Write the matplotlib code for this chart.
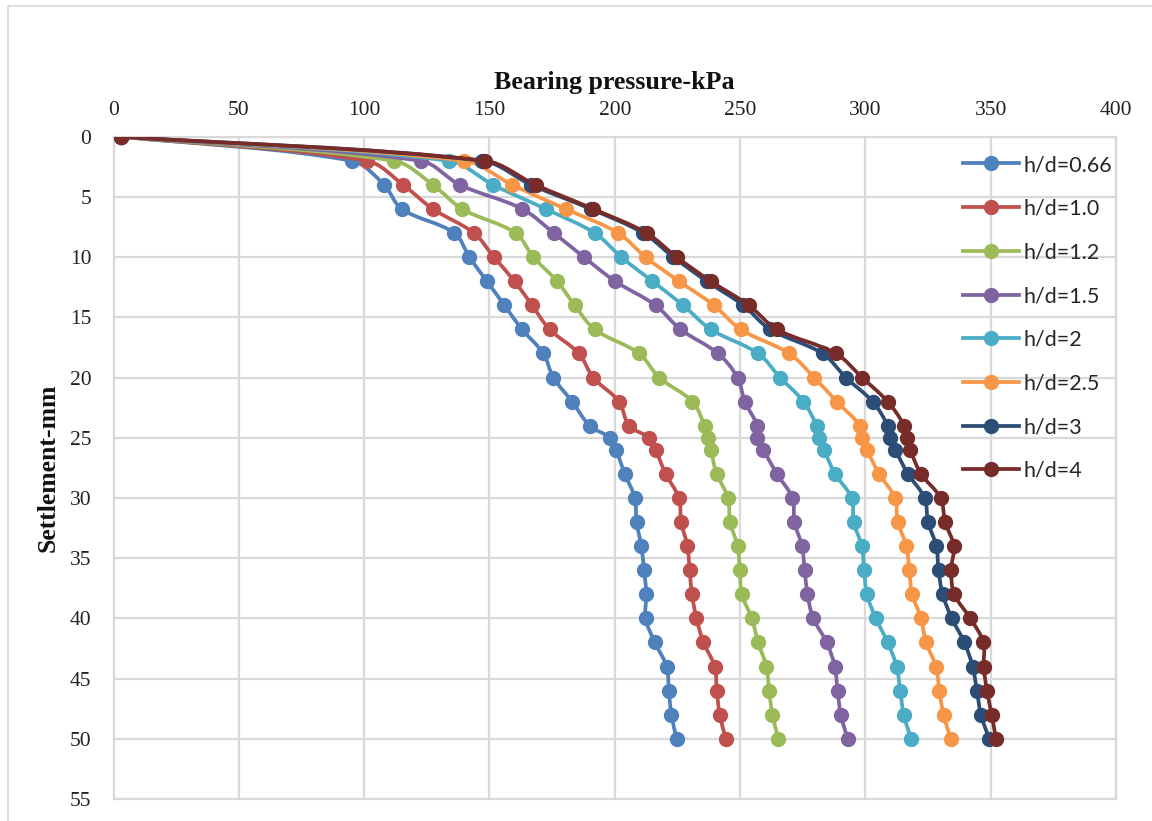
import numpy as np
import matplotlib
matplotlib.use("Agg")
import matplotlib.pyplot as plt
from matplotlib.path import Path
from matplotlib.patches import PathPatch, Rectangle
from matplotlib.lines import Line2D

# ---------------- data ----------------
settlement = [0, 2, 4, 6, 8, 10, 12, 14, 16, 18, 20, 22, 24, 25, 26, 28, 30,
              32, 34, 36, 38, 40, 42, 44, 46, 48, 50]

hd_066 = [3, 95, 108, 115, 136, 142, 149, 156, 163, 171.5, 175.5, 183, 190, 198,
          200.5, 204, 208, 208.7, 210.6, 211.7, 212.6, 212.3, 216, 220.7, 221.6,
          222.6, 224.7]
hd_10 = [3, 101, 115.6, 127.4, 143.8, 151.8, 160, 167, 174, 185.7, 191.4, 201.7,
         205.7, 213.7, 216.3, 220.3, 225.6, 226.5, 229, 229.9, 230.8, 232.6, 235.4,
         239.9, 240.7, 241.9, 244.3]
hd_12 = [3, 111.8, 127.5, 139.1, 160.4, 167.5, 177, 184, 192, 209.7, 217.7, 231,
         235.9, 237.4, 238.3, 240.7, 245.2, 246, 249, 249.9, 250.7, 254.7, 257.2,
         260.5, 261.6, 262.9, 265.3]
hd_15 = [3, 122.5, 138.2, 163.1, 175.7, 187.7, 200.1, 216.3, 226.2, 241.2, 249,
         251.9, 256.9, 256.7, 259.3, 264.7, 270.9, 271.7, 274.7, 275.8, 276.9,
         279.2, 284.6, 287.8, 288.9, 290.2, 292.9]
hd_2 = [3, 133.8, 151.5, 172.4, 192, 202.6, 215, 227.3, 238.3, 257.2, 266, 275.3,
        280.5, 281.6, 283.5, 287.9, 294.5, 295.3, 298.6, 299.5, 300.6, 304.2,
        308.9, 312.5, 313.9, 315.3, 318.2]
hd_25 = [3, 140, 159.1, 180.4, 201.4, 212.3, 225.6, 239.6, 250.2, 269.6, 279.6,
         288.6, 297.8, 298.5, 300.6, 305.5, 311.8, 312.9, 316.4, 317.5, 318.7,
         322.2, 324.2, 328.2, 329.5, 331.2, 334.1]
hd_3 = [3, 147.1, 166.7, 190.4, 211.4, 223.4, 236.7, 251.3, 262, 282.9, 292.2,
        302.9, 308.9, 309.7, 311.9, 317, 323.6, 325, 328.3, 329.2, 330.8, 334.5,
        339.5, 342.8, 344.5, 346.1, 349.4]
hd_4 = [3, 148.3, 168.4, 191.4, 212.7, 224.7, 238.3, 253.5, 264.7, 288.2, 298.7,
        308.9, 315.5, 316.5, 317.9, 322.2, 330, 331.8, 335.3, 334.2, 335.5, 341.9,
        347.1, 347.2, 348.5, 350.4, 352.1]

labels = ["h/d=0.66", "h/d=1.0", "h/d=1.2", "h/d=1.5", "h/d=2", "h/d=2.5",
          "h/d=3", "h/d=4"]
series = [hd_066, hd_10, hd_12, hd_15, hd_2, hd_25, hd_3, hd_4]
colors = ["#4F81BD", "#C0504D", "#9BBB59", "#8064A2", "#4BACC6", "#F79646",
          "#2C4D75", "#772C2A"]

x_ticks = [0, 50, 100, 150, 200, 250, 300, 350, 400]
y_ticks = [0, 5, 10, 15, 20, 25, 30, 35, 40, 45, 50, 55]


def smooth_path(ax, xs, ys):
    """Excel-like smoothed line: cubic Bezier path, control points computed in
    display space (so the curve does not overshoot), then mapped back to data."""
    pd = np.column_stack([xs, ys]).astype(float)
    p = ax.transData.transform(pd)
    n = len(p)
    tang = []
    for i in range(n):
        a = p[i - 1] if i > 0 else p[i]
        b = p[i + 1] if i < n - 1 else p[i]
        v = b - a
        nv = np.hypot(*v)
        tang.append(v / nv if nv > 0 else np.zeros(2))
    verts = [p[0]]
    codes = [Path.MOVETO]
    for i in range(n - 1):
        d = np.hypot(*(p[i + 1] - p[i]))
        c1 = p[i] + tang[i] * d / 3.0
        c2 = p[i + 1] - tang[i + 1] * d / 3.0
        verts += [c1, c2, p[i + 1]]
        codes += [Path.CURVE4] * 3
    verts = ax.transData.inverted().transform(np.array(verts))
    return Path(verts, codes)


W, H = 1152, 821
fig = plt.figure(figsize=(W / 100, H / 100), dpi=100)
ax = fig.add_axes([113.5 / W, 1 - 799 / H, (1116 - 113.5) / W, (799 - 136.7) / H])
ax.set_xlim(0, 400)
ax.set_ylim(55, 0)

# outer chart border
fig.patches.append(Rectangle((7.5 / W, -0.05), 1.2, 1 - 6 / H + 0.05,
                             transform=fig.transFigure, fill=False,
                             edgecolor="#d9d9d9", linewidth=1.3, zorder=0))

lw = 2.7
ms = 10
handles = []
for i, (vals, lab, col) in enumerate(zip(series, labels, colors)):
    path = smooth_path(ax, vals, settlement)
    patch = PathPatch(path, facecolor="none", edgecolor=col, linewidth=lw,
                      capstyle="round", joinstyle="round", zorder=3 + 2 * i)
    ax.add_patch(patch)
    ax.plot(vals, settlement, linestyle="none", marker="o", markersize=ms,
            color=col, markeredgecolor=col, zorder=4 + 2 * i)
    handles.append(Line2D([], [], color=col, linewidth=lw, marker="o",
                          markersize=ms, markeredgecolor=col))

ax.set_xlim(0, 400)
ax.set_ylim(55, 0)
ax.set_xticks(x_ticks)
ax.set_yticks(y_ticks)
ax.xaxis.tick_top()
ax.xaxis.set_label_position("top")

serif = "Liberation Serif"
ax.set_xticklabels([str(v) for v in x_ticks], fontfamily=serif, fontsize=15.5)
ax.set_yticklabels([str(v) for v in y_ticks], fontfamily=serif, fontsize=15.5)
ax.tick_params(axis="x", length=0, pad=12, colors="#222222")
ax.tick_params(axis="y", length=0, pad=16, colors="#222222")

ax.grid(True, color="#d9d9d9", linewidth=1.6)
ax.set_axisbelow(True)
for s in ax.spines.values():
    s.set_color("#d9d9d9")
    s.set_linewidth(1.6)

ax.set_xlabel("Bearing pressure-kPa", fontfamily=serif, fontweight="bold",
              fontsize=18.7, labelpad=9, color="#111111")
ax.set_ylabel("Settlement-mm", fontfamily=serif, fontweight="bold",
              fontsize=18.5, labelpad=7, color="#111111")

leg = ax.legend(handles, labels, loc="upper left",
                bbox_to_anchor=(963 / W, 1 - 155 / H),
                bbox_transform=fig.transFigure, frameon=False,
                prop={"family": "Lato", "size": 15.5},
                handlelength=2.6, handletextpad=0.2, labelspacing=1.1,
                borderpad=0, borderaxespad=0)
for t in leg.get_texts():
    t.set_color("#262626")

fig.savefig("out.png", dpi=100, facecolor="white")
